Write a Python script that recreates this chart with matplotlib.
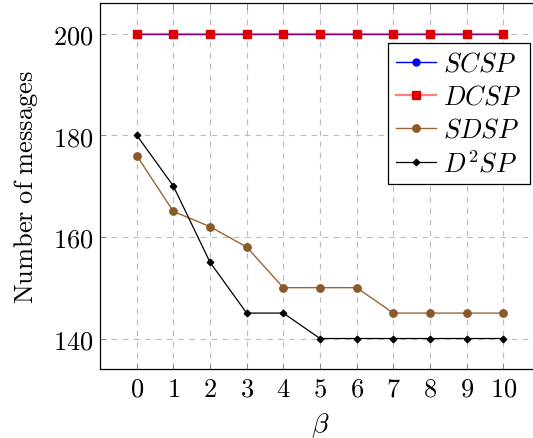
import matplotlib
matplotlib.use('Agg')
import matplotlib.pyplot as plt

plt.rcParams['mathtext.fontset'] = 'cm'
plt.rcParams['font.family'] = 'serif'
plt.rcParams['font.serif'] = ['DejaVu Serif']

# data
beta = [0, 1, 2, 3, 4, 5, 6, 7, 8, 9, 10]
scsp = [200, 200, 200, 200, 200, 200, 200, 200, 200, 200, 200]
dcsp = [200, 200, 200, 200, 200, 200, 200, 200, 200, 200, 200]
sdsp = [176, 165, 162, 158, 150, 150, 150, 145, 145, 145, 145]
d2sp = [180, 170, 155, 145, 145, 140, 140, 140, 140, 140, 140]
yticks = [140, 160, 180, 200]

fig = plt.figure(figsize=(5.33, 4.39), dpi=100)
ax = fig.add_axes([100 / 533, 69 / 439, 440 / 533, 366 / 439])

ax.plot(beta, scsp, color='blue', marker='o', markersize=5, linewidth=1, label='$SCSP$')
ax.plot(beta, dcsp, color=(1, 0, 0, 0.5), marker='s', markersize=5.2,
        markerfacecolor='#dd0000', markeredgecolor='#dd0000', linewidth=1.6, label='$DCSP$')
ax.plot(beta, sdsp, color='#996633', marker='o', markersize=5.3,
        markerfacecolor='#8a5a2b', markeredgecolor='#8a5a2b', linewidth=1, label='$SDSP$')
ax.plot(beta, d2sp, color='black', marker='D', markersize=3.3, linewidth=0.9, label='$D^2SP$')

ax.set_xlim(-1, 11)
ax.set_ylim(134, 206)
ax.set_xticks(beta)
ax.set_xticklabels(['$%d$' % b for b in beta], fontsize=19)
ax.set_yticks(yticks)
ax.set_yticklabels(['$%d$' % v for v in yticks], fontsize=19)
ax.tick_params(direction='in', top=True, right=True, length=4, width=0.6, color='gray', pad=5)
ax.grid(True, linestyle=(0, (5, 5)), color='#bbbbbb', linewidth=0.8)
ax.set_axisbelow(True)
for s in ax.spines.values():
    s.set_linewidth(0.9)

ax.set_xlabel(r'$\beta$', fontsize=20, labelpad=7)
ax.set_ylabel(r'$\mathrm{Number\ of\ messages}$', fontsize=19, labelpad=9)

leg = ax.legend(loc='upper right', bbox_to_anchor=(430 / 440, 1 - 40 / 366), fontsize=19,
                frameon=True, fancybox=False, edgecolor='black', framealpha=1,
                handlelength=1.5, borderpad=0.3, labelspacing=0.3, handletextpad=0.3,
                borderaxespad=0)
leg.get_frame().set_linewidth(0.9)

fig.savefig('out.png', dpi=100)
